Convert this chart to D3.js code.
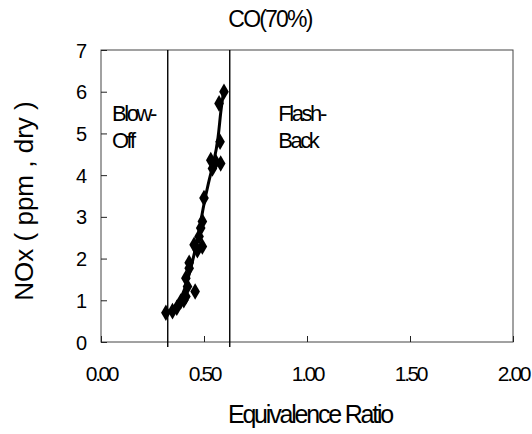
<!DOCTYPE html>
<html>
<head>
<meta charset="utf-8">
<script src="https://cdn.jsdelivr.net/npm/d3@7"></script>
<style>
  body { margin: 0; background: #fff; }
  text { font-family: "Liberation Sans", Arial, sans-serif; fill: #000; }
</style>
</head>
<body>
<div id="vis-container"></div>
<script>
// measured points (equivalence ratio, NOx ppm dry)
const phi = [0.315, 0.347, 0.368, 0.387, 0.402, 0.412, 0.457, 0.42, 0.412, 0.428, 0.428,
             0.452, 0.468, 0.492, 0.476, 0.484, 0.492, 0.5, 0.541, 0.533, 0.557, 0.581,
             0.578, 0.573, 0.597];
const nox = [0.70, 0.74, 0.82, 0.97, 1.00, 1.09, 1.21, 1.33, 1.53, 1.77, 1.90,
             2.33, 2.20, 2.29, 2.53, 2.73, 2.89, 3.45, 4.16, 4.36, 4.32, 4.28,
             4.80, 5.72, 6.00];
// smooth trend line drawn through the data
const fitPhi = [0.315, 0.35, 0.39, 0.42, 0.45, 0.475, 0.495, 0.52, 0.55, 0.57, 0.58, 0.595];
const fitNox = [0.70, 0.78, 1.05, 1.45, 2.05, 2.60, 3.20, 3.80, 4.35, 4.90, 5.50, 6.00];

const limitPhi = [0.324, 0.625];      // blow-off / flash-back limits
const xTicks = [0, 0.5, 1.0, 1.5, 2.0];
const yTicks = [0, 1, 2, 3, 4, 5, 6, 7];

const width = 532, height = 434;
const padding = { top: 50, right: 19, bottom: 92, left: 101 };
const plotW = width - padding.left - padding.right;
const plotH = height - padding.top - padding.bottom;

const xScale = d3.scaleLinear().domain([0, 2]).range([0, plotW]);
const yScale = d3.scaleLinear().domain([0, 7]).range([plotH, 0]);

const svg = d3.select('#vis-container').append('svg')
      .attr('width', width).attr('height', height);

const g = svg.append('g')
      .attr('transform', `translate(${padding.left} ${padding.top})`);

// frame
g.append('rect')
  .attr('width', plotW).attr('height', plotH)
  .attr('fill', 'none').attr('stroke', '#444').attr('stroke-width', 1);

// axes with inward ticks
const xAxis = d3.axisBottom(xScale).tickValues(xTicks).tickSize(-6)
      .tickPadding(24).tickFormat(d3.format('.2f'));
const yAxis = d3.axisLeft(yScale).tickValues(yTicks).tickSize(-6)
      .tickPadding(14).tickFormat(d3.format('d'));

const xAxisG = g.append('g').attr('transform', `translate(0 ${plotH})`).call(xAxis);
const yAxisG = g.append('g').call(yAxis);
[xAxisG, yAxisG].forEach(function (a) {
  a.select('.domain').remove();
  a.selectAll('line').attr('stroke', '#222');
});
yAxisG.selectAll('text').attr('dy', '0.35em').style('font-size', '20px');
xAxisG.selectAll('text').attr('dy', '0.71em').style('font-size', '21px')
  .attr('letter-spacing', '-2.4');

// limit lines
g.selectAll('.limit').data(limitPhi).enter().append('line')
  .attr('x1', d => xScale(d)).attr('x2', d => xScale(d))
  .attr('y1', 0).attr('y2', plotH + 5)
  .attr('stroke', '#000').attr('stroke-width', 1.4);

// trend line
const line = d3.line()
  .x(d => xScale(d[0])).y(d => yScale(d[1]))
  .curve(d3.curveBasis);
g.append('path')
  .datum(d3.zip(fitPhi, fitNox))
  .attr('fill', 'none').attr('stroke', '#000').attr('stroke-width', 3)
  .attr('d', line);

// diamond markers
const diamond = d3.symbol().type(d3.symbolDiamond).size(80);
g.selectAll('.pt').data(d3.zip(phi, nox)).enter().append('path')
  .attr('d', diamond)
  .attr('transform', d => `translate(${xScale(d[0])} ${yScale(d[1])})`)
  .attr('fill', '#000');

// region labels
const notes = [
  { x: 0.053, y: 5.3, t: 'Blow-' }, { x: 0.053, y: 4.65, t: 'Off' },
  { x: 0.86, y: 5.3, t: 'Flash-' }, { x: 0.86, y: 4.65, t: 'Back' }
];
g.selectAll('.note').data(notes).enter().append('text')
  .attr('x', d => xScale(d.x)).attr('y', d => yScale(d.y))
  .style('font-size', '22px').attr('letter-spacing', '-2.4')
  .text(d => d.t);

// titles
svg.append('text')
  .attr('x', 270).attr('y', 27).attr('text-anchor', 'middle')
  .style('font-size', '23px').attr('letter-spacing', '-1.8')
  .text('CO(70%)');

svg.append('text')
  .attr('x', 310).attr('y', 423).attr('text-anchor', 'middle')
  .style('font-size', '25px').attr('letter-spacing', '-2.2')
  .text('Equivalence Ratio');

svg.append('text')
  .attr('transform', `translate(33 ${padding.top + plotH / 2 + 5}) rotate(-90)`)
  .attr('text-anchor', 'middle')
  .style('font-size', '26px')
  .text('NOx ( ppm , dry )');
</script>
</body>
</html>
